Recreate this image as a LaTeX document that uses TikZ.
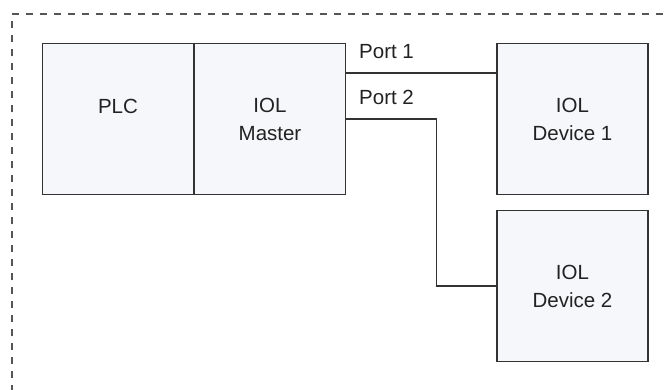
\documentclass[tikz,border=0pt]{standalone}
\usepackage{fontspec}
\setmainfont{Liberation Sans}
\definecolor{boxfill}{HTML}{F5F7FA}
\definecolor{edge}{HTML}{333333}
\definecolor{frame}{HTML}{555555}
\definecolor{ink}{HTML}{222222}
\tikzset{
  unit/.style={draw=edge, line width=1.8pt, fill=boxfill, inner sep=0pt,
    minimum width=151pt, minimum height=151pt, text=ink, align=center,
    font=\fontsize{20.5}{28}\selectfont},
  portlabel/.style={text=ink, inner sep=0pt, anchor=west,
    font=\fontsize{20.5}{22}\selectfont},
  wire/.style={draw=edge, line width=1.8pt},
  border/.style={draw=frame, line width=1.8pt, dash pattern=on 7pt off 7pt}
}
\begin{document}
\begin{tikzpicture}[x=1pt, y=-1pt]
  \useasboundingbox (0,0) rectangle (669,389);
  \clip (0,0) rectangle (669,389);
  % outer dashed frame, running past the page edges
  \draw[border] (12,420) -- (12,14) -- (700,14);
  % controller and master
  \node[unit] (plc) at (118,119) {};
  \node[text=ink, font=\fontsize{20.5}{28}\selectfont] (plctext) at (118,106) {PLC};
  \node[unit] (master) at (270,119) {IOL\\Master};
  % devices
  \node[unit] (dev1) at (572.5,119) {IOL\\Device 1};
  \node[unit] (dev2) at (572.5,286) {IOL\\Device 2};
  % port connections
  \draw[wire] ([yshift=46pt]master.east) -- ([yshift=46pt]dev1.west);
  \draw[wire] (master.east) -- ++(90,0) |- (dev2.west);
  \node[portlabel] (p1) at (359,52) {Port 1};
  \node[portlabel] (p2) at (359,97) {Port 2};
\end{tikzpicture}
\end{document}
